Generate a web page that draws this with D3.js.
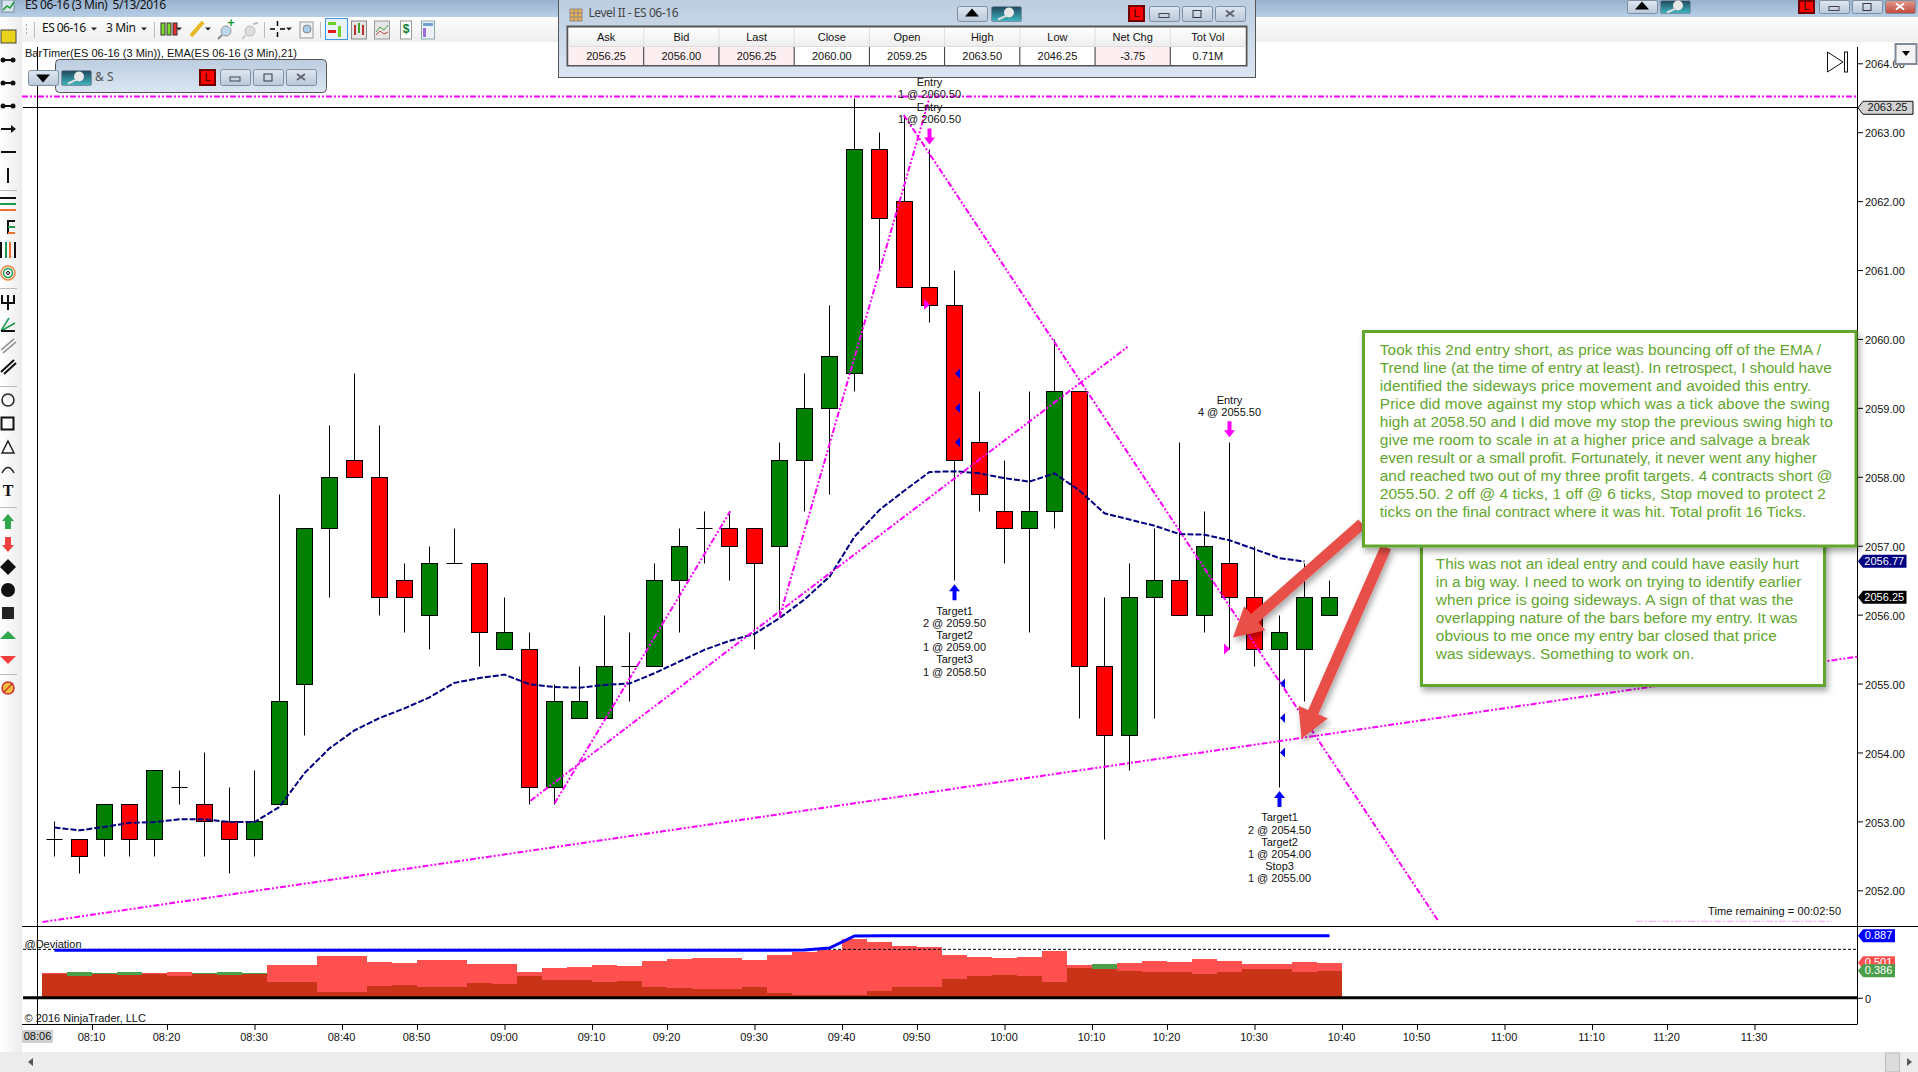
<!DOCTYPE html>
<html lang="en">
<head>
<meta charset="UTF-8">
<title>ES 06-16 (3 Min) 5/13/2016</title>
<script src="https://cdnjs.cloudflare.com/ajax/libs/d3/7.8.5/d3.min.js"></script>
<style>
    body { margin: 0; background: #fff; overflow: hidden; }
    svg { display: block; font-family: 'Liberation Sans', Arial, sans-serif; }
    text { fill: #111; font-size: 11px; dominant-baseline: middle; white-space: pre; }
    .ui { font-family: 'Noto Sans', sans-serif; }
    .axis text { font-size: 11px; fill: #111; dominant-baseline: auto; }
    .axis line { stroke: #000; }
    .axis .domain { display: none; }
    .trend { fill: none; stroke: #ff00ff; stroke-width: 2; stroke-dasharray: 6 2 2 2 2 2; }
    .note text { fill: #62a62d; font-size: 15.4px; }
</style>
</head>
<body>
<svg id="chart" width="1918" height="1072"></svg>
<script>
// candles, one per 3 minute bar
const barOpen = [2052.75,2052.75,2052.75,2053.25,2052.75,2053.5,2053.25,2053,2052.75,2053.25,2055,2057.25,2058.25,2058,2056.5,2056,2056.75,2056.75,2055.5,2055.5,2053.5,2054.5,2054.5,2055.25,2055.25,2056.5,2057.25,2057.25,2057.25,2057,2058.25,2059,2059.5,2062.75,2062,2060.75,2060.5,2058.5,2057.5,2057.25,2057.5,2059.25,2055.25,2054.25,2056.25,2056.5,2056,2056.75,2056.25,2055.5,2055.5,2056];
const barHigh = [2053,2052.75,2053.25,2053.25,2053.75,2053.75,2054,2053.5,2053.75,2057.75,2057.25,2058.75,2059.5,2058.75,2056.75,2057,2057.25,2056.75,2056.25,2055.75,2055,2055.25,2056,2055.75,2056.75,2057.25,2057.5,2057.5,2057.25,2058.5,2059.5,2060.5,2063.5,2063,2063.25,2062.75,2061,2059.25,2058.25,2059.25,2060,2059.25,2056.25,2056.75,2057.25,2058.5,2057.5,2058.5,2057,2056,2056.75,2056.5];
const barLow = [2052.5,2052.25,2052.5,2052.5,2052.5,2053.25,2052.5,2052.25,2052.5,2053.25,2054.25,2056.25,2058,2056,2055.75,2055.5,2056.75,2055.25,2055.5,2053.25,2053.25,2054.5,2054.5,2054.75,2055.25,2055.75,2056.75,2056.5,2055.5,2056,2057.5,2057.75,2059.25,2061,2060.75,2060.25,2056.5,2057.5,2056.75,2055.75,2057.25,2054.5,2052.75,2053.75,2054.5,2056,2055.75,2055.5,2055.25,2053.5,2054.75,2056];
const barClose = [2052.75,2052.5,2053.25,2052.75,2053.75,2053.5,2053,2052.75,2053,2054.75,2057.25,2058,2058,2056.25,2056.25,2056.75,2056.75,2055.75,2055.75,2053.5,2054.75,2054.75,2055.25,2055.25,2056.5,2057,2057.25,2057,2056.75,2058.25,2059,2059.75,2062.75,2061.75,2060.75,2060.5,2058.25,2057.75,2057.25,2057.5,2059.25,2055.25,2054.25,2056.25,2056.5,2056,2057,2056.25,2055.5,2055.75,2056.25,2056.25];

// EMA(21), ends one bar before the last candle
const emaValues = [2052.91,2052.87,2052.92,2052.98,2052.99,2053.03,2053.03,2052.99,2052.99,2053.21,2053.7,2054.06,2054.32,2054.5,2054.64,2054.8,2055.01,2055.08,2055.13,2054.99,2054.95,2054.94,2054.98,2055,2055.15,2055.32,2055.49,2055.62,2055.72,2055.95,2056.22,2056.55,2057.13,2057.52,2057.8,2058.07,2058.08,2058.05,2057.98,2057.93,2058.05,2057.8,2057.47,2057.38,2057.29,2057.17,2057.16,2057.08,2056.95,2056.82,2056.77];

// @Deviation panel
const devRed = [.353,.31,.344,.325,.353,.368,.344,.325,.344,.468,.468,.597,.597,.511,.497,.54,.54,.482,.482,.368,.425,.439,.468,.454,.525,.554,.568,.568,.54,.611,.654,.683,.84,.797,.74,.726,.611,.583,.568,.583,.669,.468,.411,.497,.525,.511,.554,.525,.482,.482,.511,.501];
const devGreen = [.344,.368,.353,.368,.344,.31,.353,.368,.353,.224,.224,.081,.081,.167,.181,.153,.153,.21,.196,.31,.253,.253,.224,.239,.153,.138,.124,.124,.153,.067,.038,.038,.038,.096,.153,.153,.267,.31,.325,.31,.224,.425,.482,.382,.368,.368,.339,.368,.411,.411,.368,.386];
const devLine = [.679,.679,.679,.679,.679,.679,.679,.679,.679,.679,.679,.679,.679,.679,.679,.679,.679,.679,.679,.679,.679,.679,.679,.679,.679,.679,.679,.679,.679,.679,.685,.712,.885,.887,.887,.887,.887,.887,.887,.887,.887,.887,.887,.887,.887,.887,.887,.887,.887,.887,.887,.887];
const devDashed = 0.693;

const priceTicks = [2052,2053,2054,2055,2056,2057,2058,2059,2060,2061,2062,2063,2064];
const timeLabels = ['08:10','08:20','08:30','08:40','08:50','09:00','09:10','09:20','09:30','09:40','09:50','10:00','10:10','10:20','10:30','10:40','10:50','11:00','11:10','11:20','11:30'];
const timeTickBars = [1.5,4.5,8,11.5,14.5,18,21.5,24.5,28,31.5,34.5,38,41.5,44.5,48,51.5,54.5,58,61.5,64.5,68];

// drawn lines: [bar, price, bar, price]
const trendLines = [
    [-1.3,2063.52,72.1,2063.52],
    [-0.48,2051.54,72.1,2055.39],
    [33.97,2063.25,55.36,2051.55],
    [29,2055.96,35.04,2063.55],
    [20,2053.26,27.03,2057.5],
    [19.04,2053.3,42.98,2059.9]
];
const faintLine = [63.26,2051.55,71.1,2051.55];

const entryLabels = [
    { bar: 35, lines: ['Entry','1 @ 2060.50','Entry','1 @ 2060.50'] },
    { bar: 47, lines: ['Entry','4 @ 2055.50'] }
];
const exitLabels = [
    { bar: 36, lines: ['Target1','2 @ 2059.50','Target2','1 @ 2059.00','Target3','1 @ 2058.50'] },
    { bar: 49, lines: ['Target1','2 @ 2054.50','Target2','1 @ 2054.00','Stop3','1 @ 2055.00'] }
];
const entryFills = [[35,2060.5],[47,2055.5]];
const exitFills = [[36,2059.5],[36,2059],[36,2058.5],[49,2055],[49,2054.5],[49,2054]];

// red call-out arrows: tail bar, tail price, tip bar, tip price
const calloutArrows = [
    [52.3,2057.32,47.14,2055.67],
    [53.26,2056.98,49.88,2054.2]
];

const levelHeaders = ['Ask','Bid','Last','Close','Open','High','Low','Net Chg','Tot Vol'];
const levelValues = ['2056.25','2056.00','2056.25','2060.00','2059.25','2063.50','2046.25','-3.75','0.71M'];
const levelPink = [true,true,true,false,false,false,false,true,false];

const noteOne = [
    'Took this 2nd entry short, as price was bouncing off of the EMA /',
    'Trend line (at the time of entry at least). In retrospect, I should have',
    'identified the sideways price movement and avoided this entry.',
    'Price did move against my stop which was a tick above the swing',
    'high at 2058.50 and I did move my stop the previous swing high to',
    'give me room to scale in at a higher price and salvage a break',
    'even result or a small profit. Fortunately, it never went any higher',
    'and reached two out of my three profit targets. 4 contracts short @',
    '2055.50. 2 off @ 4 ticks, 1 off @ 6 ticks, Stop moved to protect 2',
    'ticks on the final contract where it was hit. Total profit 16 Ticks.'
];
const noteTwo = [
    'This was not an ideal entry and could have easily hurt',
    'in a big way. I need to work on trying to identify earlier',
    'when price is going sideways. A sign of that was the',
    'overlapping nature of the bars before my entry. It was',
    'obvious to me once my entry bar closed that price',
    'was sideways. Something to work on.'
];

const svg = d3.select('#chart');
const defs = svg.append('defs');

function vGrad(id, a, b) {
    const g = defs.append('linearGradient').attr('id', id).attr('x1', 0).attr('y1', 0).attr('x2', 0).attr('y2', 1);
    g.append('stop').attr('offset', '0%').attr('stop-color', a);
    g.append('stop').attr('offset', '100%').attr('stop-color', b);
}
vGrad('titleGrad', '#98b2cf', '#b7cee6');
vGrad('toolGrad', '#fdfdfd', '#efefef');
vGrad('winGrad', '#bccde0', '#dbe6f2');
vGrad('btnGrad', '#dfe7f0', '#b9c8da');
vGrad('pinGrad', '#20465c', '#3fb8c0');
vGrad('closeGrad', '#e09a90', '#c0483a');
vGrad('headGrad', '#ffffff', '#eeeeee');
const sideGrad = defs.append('linearGradient').attr('id', 'sideGrad');
sideGrad.append('stop').attr('offset', '0%').attr('stop-color', '#ffffff');
sideGrad.append('stop').attr('offset', '100%').attr('stop-color', '#ececec');

const shadow = defs.append('filter').attr('id', 'shadow').attr('x', '-10%').attr('y', '-10%').attr('width', '120%').attr('height', '125%');
shadow.append('feDropShadow').attr('dx', 2).attr('dy', 4).attr('stdDeviation', 3).attr('flood-opacity', 0.35);

function rect(g, x, y, w, h, fill, stroke) {
    return g.append('rect').attr('x', x).attr('y', y).attr('width', w).attr('height', h)
        .attr('fill', fill).attr('stroke', stroke || 'none');
}
function label(g, x, y, str, anchor, size) {
    const t = g.append('text').attr('x', x).attr('y', y).attr('text-anchor', anchor || 'start').text(str);
    if (size) t.style('font-size', size + 'px');
    return t;
}
function line(g, x1, y1, x2, y2, color, w) {
    return g.append('line').attr('x1', x1).attr('y1', y1).attr('x2', x2).attr('y2', y2)
        .attr('stroke', color || '#000').attr('stroke-width', w || 1);
}

// scales
const xBar = d3.scaleLinear().domain([0, 51]).range([54.5, 1329.5]);
const yPrice = d3.scaleLinear().domain([2052, 2064]).range([890.3, 63.3]);
const yDev = d3.scaleLinear().domain([0, 0.887]).range([997.7, 935.8]);
const bars = barOpen.map((o, i) => ({ i, o, h: barHigh[i], l: barLow[i], c: barClose[i] }));
const snapX = i => Math.floor(xBar(i)) + 0.5;
const snapY = p => Math.round(yPrice(p)) + 0.5;

// window frame
rect(svg, 0, 0, 1918, 17, 'url(#titleGrad)');
rect(svg, 22, 17, 1896, 25, 'url(#toolGrad)');
rect(svg, 0, 17, 22, 1035, 'url(#sideGrad)');
rect(svg, 0, 1052, 1918, 20, '#ececec');

// ---- price panel
const chart = svg.append('g');
const candles = chart.selectAll('.candle').data(bars).enter().append('g').attr('class', 'candle');
candles.append('line')
    .attr('x1', d => snapX(d.i)).attr('x2', d => snapX(d.i))
    .attr('y1', d => snapY(d.h)).attr('y2', d => snapY(d.l))
    .attr('stroke', '#000');
// a bar with open = close is only a cross
candles.filter(d => d.o === d.c).append('line')
    .attr('x1', d => snapX(d.i) - 8).attr('x2', d => snapX(d.i) + 8)
    .attr('y1', d => snapY(d.o)).attr('y2', d => snapY(d.o))
    .attr('stroke', '#000');
candles.filter(d => d.o !== d.c).append('rect')
    .attr('x', d => snapX(d.i) - 8).attr('width', 16)
    .attr('y', d => snapY(Math.max(d.o, d.c)))
    .attr('height', d => snapY(Math.min(d.o, d.c)) - snapY(Math.max(d.o, d.c)))
    .attr('fill', d => d.c >= d.o ? '#008000' : '#ff0000')
    .attr('stroke', '#000');

const emaLine = d3.line().x((d, i) => xBar(i)).y(d => yPrice(d));
chart.append('path').attr('d', emaLine(emaValues))
    .attr('fill', 'none').attr('stroke', '#000080').attr('stroke-width', 2).attr('stroke-dasharray', '6 2');

chart.selectAll('.trend').data(trendLines).enter().append('line').attr('class', 'trend')
    .attr('x1', d => xBar(d[0])).attr('y1', d => yPrice(d[1]))
    .attr('x2', d => xBar(d[2])).attr('y2', d => yPrice(d[3]));
line(chart, xBar(faintLine[0]), yPrice(faintLine[1]), xBar(faintLine[2]), yPrice(faintLine[3]), '#ff00ff', 1)
    .attr('opacity', 0.35).attr('stroke-dasharray', '7 2 2 2');

// crosshair
line(chart, 37.5, 47, 37.5, 1024);
line(chart, 23, 107.5, 1857, 107.5);

// small fill triangles
chart.selectAll('.inFill').data(entryFills).enter().append('path')
    .attr('d', d => { const x = xBar(d[0]) - 5.5, y = yPrice(d[1]); return `M${x},${y - 5.5}L${x + 6},${y}L${x},${y + 5.5}Z`; })
    .attr('fill', '#ff00ff');
chart.selectAll('.outFill').data(exitFills).enter().append('path')
    .attr('d', d => { const x = xBar(d[0]) + 5.5, y = yPrice(d[1]); return `M${x},${y - 5}L${x - 5},${y}L${x},${y + 5}Z`; })
    .attr('fill', '#0000e0');

// entry and exit arrows with their text
entryLabels.forEach(e => {
    const x = xBar(e.bar), top = yPrice(barHigh[e.bar]);
    chart.append('path').attr('fill', '#ff00ff')
        .attr('d', `M${x - 2},${top - 21}h4v9h3.5l-5.5,7l-5.5,-7h3.5z`);
    e.lines.forEach((s, i) => label(chart, x, top - 29.5 - (e.lines.length - 1 - i) * 12.2, s, 'middle'));
});
exitLabels.forEach(e => {
    const x = xBar(e.bar), bot = yPrice(barLow[e.bar]);
    chart.append('path').attr('fill', '#0000ff')
        .attr('d', `M${x - 2},${bot + 20}h4v-9h3.5l-5.5,-7l-5.5,7h3.5z`);
    e.lines.forEach((s, i) => label(chart, x, bot + 31.6 + i * 12.2, s, 'middle'));
});

label(chart, 25, 54.5, 'BarTimer(ES 06-16 (3 Min)), EMA(ES 06-16 (3 Min),21)').attr('textLength', 272);
label(chart, 1708, 912, 'Time remaining = 00:02:50').attr('textLength', 133);

// go to last bar icon
chart.append('path').attr('d', 'M1827.5,52L1843,62L1827.5,72Z').attr('fill', 'none').attr('stroke', '#111');
rect(chart, 1844.5, 52, 3, 20, 'none', '#111');

// ---- @Deviation panel
const dev = svg.append('g');
const devBars = bars.map(d => ({ i: d.i, red: devRed[d.i], green: devGreen[d.i] }));
const devRect = (cls, value, color) => dev.selectAll('.' + cls).data(devBars).enter().append('rect')
    .attr('x', d => xBar(d.i) - 12.5).attr('width', 25)
    .attr('y', d => yDev(value(d))).attr('height', d => yDev(0) - yDev(value(d)))
    .attr('fill', color).attr('shape-rendering', 'crispEdges');
devRect('devRed', d => d.red, '#ff5050');
devRect('devGreen', d => d.green, '#4b9f4b');
devRect('devBoth', d => Math.min(d.red, d.green), '#c93317');

line(dev, 23, yDev(devDashed), 1857, yDev(devDashed)).attr('stroke-dasharray', '3 2');
line(dev, 23, yDev(0), 1857, yDev(0), '#000', 3);
const devPath = d3.line().x((d, i) => xBar(i)).y(d => yDev(d));
dev.append('path').attr('d', devPath(devLine)).attr('fill', 'none').attr('stroke', '#0000ff').attr('stroke-width', 3);

label(dev, 24.5, 945.5, '@Deviation');
label(dev, 24.5, 1019, '© 2016 NinjaTrader, LLC');

// panel rules
line(svg, 22, 926.5, 1918, 926.5);
line(svg, 22, 1024.5, 1857, 1024.5);
line(svg, 1857.5, 47, 1857.5, 1024.5);

// axes
svg.append('g').attr('class', 'axis').attr('transform', 'translate(1857,0)')
    .call(d3.axisRight(yPrice).tickValues(priceTicks).tickFormat(d3.format('.2f')).tickSize(6).tickPadding(2))
    .selectAll('text').attr('dy', '0.42em');
svg.append('g').attr('class', 'axis').attr('transform', 'translate(1857,0)')
    .call(d3.axisRight(yDev).tickValues([0]).tickFormat(d3.format('d')).tickSize(6).tickPadding(2))
    .selectAll('text').attr('dy', '0.42em');
svg.append('g').attr('class', 'axis').attr('transform', 'translate(0,1024)')
    .call(d3.axisBottom(xBar).tickValues(timeTickBars).tickFormat((d, i) => timeLabels[i]).tickSize(6).tickPadding(3))
    .selectAll('text').attr('dx', -1);
rect(svg, 22, 1030, 31, 13, '#cfcfcf');
label(svg, 37.5, 1037.5, '08:06', 'middle');

// value tags at the axis
function tag(y, h, w, fill, textColor, str, stroke) {
    const top = y - h / 2;
    svg.append('path').attr('d', `M1858,${y}L1863,${top}H${1858 + w}V${top + h}H1863Z`)
        .attr('fill', fill).attr('stroke', stroke || 'none');
    label(svg, 1864 + (w - 6) / 2 - 1, y + 0.5, str, 'middle').style('fill', textColor);
}
tag(107.8, 13, 55, '#d4d4d4', '#111', '2063.25', '#111');
tag(561.2, 13, 48.5, '#000080', '#fff', '2056.77');
tag(597.2, 13, 48.5, '#000', '#fff', '2056.25');
tag(yDev(0.887), 13, 37, '#0000ff', '#fff', '0.887');
tag(yDev(0.501), 13, 37, '#ff5050', '#fff', '0.501');
tag(yDev(0.386), 13, 37, '#4b9f4b', '#fff', '0.386');

// ---- red call-out arrows
calloutArrows.forEach(a => {
    const x0 = xBar(a[0]), y0 = yPrice(a[1]), x1 = xBar(a[2]), y1 = yPrice(a[3]);
    const len = Math.hypot(x1 - x0, y1 - y0), ux = (x1 - x0) / len, uy = (y1 - y0) / len;
    const nx = -uy, ny = ux, bx = x1 - ux * 29, by = y1 - uy * 29;
    const pts = [
        [x0 + nx * 5.5, y0 + ny * 5.5], [bx + nx * 5.5, by + ny * 5.5], [bx + nx * 16, by + ny * 16],
        [x1, y1],
        [bx - nx * 16, by - ny * 16], [bx - nx * 5.5, by - ny * 5.5], [x0 - nx * 5.5, y0 - ny * 5.5]
    ];
    svg.append('polygon').attr('points', pts.join(' ')).attr('fill', '#e8504a').attr('filter', 'url(#shadow)');
});

// ---- green notes, line widths follow the screenshot's hinted text
const noteB = svg.append('g').attr('class', 'note');
rect(noteB, 1421.5, 530, 403, 155.5, '#fff', '#62a62d').attr('stroke-width', 3).attr('filter', 'url(#shadow)');
const noteTwoWidths = [363, 365.6, 357.5, 361.6, 341, 258.4];
noteTwo.forEach((s, i) => label(noteB, 1435.8, 564.5 + i * 18, s).attr('textLength', noteTwoWidths[i]));
const noteA = svg.append('g').attr('class', 'note');
rect(noteA, 1363.5, 331.5, 492.5, 214.5, '#fff', '#62a62d').attr('stroke-width', 3).attr('filter', 'url(#shadow)');
const noteOneWidths = [441.2, 451.9, 431.6, 450, 452.9, 430.2, 437.2, 452.6, 446, 426.5];
noteOne.forEach((s, i) => label(noteA, 1379.8, 351.1 + i * 18, s).attr('textLength', noteOneWidths[i]));

// ---- toolbar
const bar = svg.append('g');
function smallArrow(g, x, y) { g.append('path').attr('d', `M${x - 3},${y - 1.5}h6l-3,3z`).attr('fill', '#222'); }
function btn(g, x, y, w, h, kind) {
    rect(g, x + 0.5, y + 0.5, w, h, kind === 'close' ? 'url(#closeGrad)' : 'url(#btnGrad)', '#7f8fa3').attr('rx', 2);
    const cx = x + w / 2, cy = y + h / 2;
    if (kind === 'min') rect(g, cx - 5, cy, 10, 4, 'none', '#445');
    if (kind === 'max') rect(g, cx - 4, cy - 3, 8, 7, 'none', '#334');
    if (kind === 'close' || kind === 'x') {
        g.append('path').attr('d', `M${cx - 4},${cy - 3}L${cx + 4},${cy + 3}M${cx + 4},${cy - 3}L${cx - 4},${cy + 3}`)
            .attr('stroke', kind === 'close' ? '#fff' : '#667').attr('stroke-width', 2);
    }
    if (kind === 'up') g.append('path').attr('d', `M${cx - 7},${cy + 3}h14l-7,-8z`).attr('fill', '#000');
    if (kind === 'down') g.append('path').attr('d', `M${cx - 7},${cy - 3}h14l-7,8z`).attr('fill', '#000');
    if (kind === 'pin') {
        rect(g, x + 0.5, y + 0.5, w, h, 'url(#pinGrad)', '#7f8fa3').attr('rx', 2);
        g.append('circle').attr('cx', cx + 3).attr('cy', cy - 1).attr('r', 5).attr('fill', '#e8e8e8');
        line(g, cx + 1, cy + 2, cx - 8, cy + 6, '#ddd', 2);
    }
}
function lBox(g, x, y, w, h) {
    rect(g, x + 1, y + 1, w - 2, h - 2, '#ff0000', '#700000').attr('stroke-width', 2);
    label(g, x + w / 2, y + h / 2 + 0.5, 'L', 'middle', 11);
}

label(bar, 25, 6, 'ES 06-16 (3 Min)  5/13/2016', 'start', 12).attr('class', 'ui').attr('textLength', 141);
rect(bar, 2, 0, 12, 12, '#d8e4ef', '#7f8fa3');
bar.append('path').attr('d', 'M3,10L7,6L10,8L14,2').attr('fill', 'none').attr('stroke', '#1a9a30').attr('stroke-width', 1.5);
btn(bar, 1627, 0, 30, 13, 'up');
btn(bar, 1660, 0, 30, 13, 'pin');
lBox(bar, 1798, 0, 17, 14);
btn(bar, 1819, 0, 30, 13, 'min');
btn(bar, 1852, 0, 30, 13, 'max');
btn(bar, 1885, 0, 30, 13, 'close');

line(bar, 26.5, 24, 26.5, 36, '#aaa').attr('stroke-dasharray', '2 2');
line(bar, 34.5, 22, 34.5, 38, '#bbb');
label(bar, 42, 29, 'ES 06-16', 'start', 12).attr('class', 'ui').attr('textLength', 44);
smallArrow(bar, 94, 29);
label(bar, 106, 29, '3 Min', 'start', 12).attr('class', 'ui').attr('textLength', 30);
smallArrow(bar, 144, 29);
line(bar, 154.5, 22, 154.5, 38, '#bbb');
rect(bar, 161, 23, 4, 12, '#7fdc2a', '#333');
rect(bar, 167, 23, 4, 12, '#7fdc2a', '#333');
rect(bar, 173, 23, 4, 12, '#e03030', '#333');
smallArrow(bar, 179, 29);
line(bar, 191, 36, 203, 22, '#e8b820', 4);
smallArrow(bar, 208, 29);
bar.append('circle').attr('cx', 226).attr('cy', 31).attr('r', 5).attr('fill', '#bcd6ee').attr('stroke', '#999');
line(bar, 222, 35, 218, 39, '#888', 2);
label(bar, 231, 24, '+', 'middle', 13).style('fill', '#10a030').style('font-weight', 'bold');
bar.append('circle').attr('cx', 250).attr('cy', 31).attr('r', 5).attr('fill', '#ddd').attr('stroke', '#bbb');
line(bar, 246, 35, 242, 39, '#ccc', 2);
line(bar, 253, 24, 258, 23, '#bbb', 2);
line(bar, 264.5, 22, 264.5, 38, '#bbb');
bar.append('path').attr('d', 'M270,29h5M280,29h5M277.5,21v5M277.5,32v5').attr('stroke', '#000').attr('stroke-width', 1.5);
smallArrow(bar, 289, 29);
rect(bar, 300, 22, 13, 16, '#f4f4f4', '#999');
bar.append('circle').attr('cx', 307).attr('cy', 29).attr('r', 4).attr('fill', '#a8cdea').attr('stroke', '#888');
line(bar, 320.5, 22, 320.5, 38, '#bbb');
rect(bar, 325.5, 18.5, 22, 21, '#e8f2fb', '#3f97e6');
rect(bar, 328, 22, 8, 3, '#6fd02a');
rect(bar, 328, 30, 8, 3, '#e02020');
rect(bar, 338, 26, 3, 11, '#6fd02a');
rect(bar, 351.5, 21, 15, 18, '#e6e6e6', '#888');
rect(bar, 354, 25, 2, 10, '#c03030');
rect(bar, 358, 23, 2, 10, '#40a030');
rect(bar, 362, 25, 2, 10, '#c03030');
rect(bar, 374.5, 21, 15, 18, '#e6e6e6', '#999');
bar.append('path').attr('d', 'M376,32L380,27L384,30L388,25').attr('fill', 'none').attr('stroke', '#3fa040');
bar.append('path').attr('d', 'M376,35L380,31L384,34L388,32').attr('fill', 'none').attr('stroke', '#d04040');
rect(bar, 400.5, 21, 11, 18, '#fff', '#999');
label(bar, 406, 30, '$', 'middle', 12).style('fill', '#108030').style('font-weight', 'bold');
rect(bar, 421.5, 21, 13, 18, '#eef2f6', '#8aa');
rect(bar, 423, 23, 10, 3, '#70a0d0');
rect(bar, 423, 28, 3, 9, '#9a70e0');

// ---- drawing tools on the left
const tools = svg.append('g');
rect(tools, 1, 30, 15, 13, '#e8d21a', '#444');
[60, 83, 106].forEach(y => {
    line(tools, 1, y, 15, y, '#111', 2);
    tools.append('circle').attr('cx', 3).attr('cy', y).attr('r', 2.5).attr('fill', '#111');
    tools.append('circle').attr('cx', 13).attr('cy', y).attr('r', 2.5).attr('fill', '#111');
});
line(tools, 1, 129, 14, 129, '#111', 2);
tools.append('path').attr('d', 'M11,125l5,4l-5,4z').attr('fill', '#111');
line(tools, 1, 152, 16, 152, '#111', 2);
line(tools, 8, 168, 8, 183, '#111', 2);
line(tools, 0, 190.5, 17, 190.5, '#bbb');
line(tools, 0, 198, 16, 198, '#111', 2);
line(tools, 0, 204, 16, 204, '#1a9a50', 2);
line(tools, 0, 210, 16, 210, '#f07030', 2);
line(tools, 8, 220, 8, 234, '#111', 2);
line(tools, 8, 221, 15, 221, '#111', 2);
line(tools, 8, 227, 15, 227, '#1a9a50', 2);
line(tools, 8, 233, 15, 233, '#f07030', 2);
line(tools, 1, 242, 1, 258, '#111', 2);
line(tools, 6, 242, 6, 258, '#1a9a50', 2);
line(tools, 10, 242, 10, 258, '#f07030', 2);
line(tools, 15, 242, 15, 258, '#111', 2);
tools.append('circle').attr('cx', 8).attr('cy', 273).attr('r', 7).attr('fill', 'none').attr('stroke', '#f08040').attr('stroke-width', 1.5);
tools.append('circle').attr('cx', 8).attr('cy', 273).attr('r', 4.5).attr('fill', 'none').attr('stroke', '#1a9a50').attr('stroke-width', 1.5);
tools.append('circle').attr('cx', 8).attr('cy', 273).attr('r', 1.5).attr('fill', 'none').attr('stroke', '#111');
line(tools, 0, 288.5, 17, 288.5, '#bbb');
tools.append('path').attr('d', 'M2,295v8h12v-8M8,295v15').attr('fill', 'none').attr('stroke', '#111').attr('stroke-width', 2);
tools.append('path').attr('d', 'M1,331L9,318M1,331L15,323').attr('stroke', '#1a9a50').attr('stroke-width', 1.5);
line(tools, 1, 331, 15, 331, '#111', 2);
tools.append('path').attr('d', 'M1,350L14,339M3,353L16,342').attr('stroke', '#888').attr('stroke-width', 1.5);
tools.append('path').attr('d', 'M1,372L14,360M4,374L16,363').attr('stroke', '#111').attr('stroke-width', 2);
line(tools, 0, 386.5, 17, 386.5, '#bbb');
tools.append('circle').attr('cx', 8).attr('cy', 400).attr('r', 6).attr('fill', 'none').attr('stroke', '#222').attr('stroke-width', 1.5);
rect(tools, 1.5, 417.5, 12, 12, 'none', '#111').attr('stroke-width', 2);
tools.append('path').attr('d', 'M8,441L14,453H2Z').attr('fill', 'none').attr('stroke', '#222').attr('stroke-width', 1.5);
tools.append('path').attr('d', 'M2,473Q8,462 14,473').attr('fill', 'none').attr('stroke', '#222').attr('stroke-width', 1.5);
label(tools, 8, 492, 'T', 'middle', 16).style('font-family', 'Liberation Serif').style('font-weight', 'bold');
line(tools, 0, 507.5, 17, 507.5, '#bbb');
tools.append('path').attr('d', 'M8,514l6,7h-3v8h-6v-8h-3z').attr('fill', '#2ea84a');
tools.append('path').attr('d', 'M8,552l6,-7h-3v-8h-6v8h-3z').attr('fill', '#f04040');
tools.append('path').attr('d', 'M8,559l8,8l-8,8l-8,-8z').attr('fill', '#111');
tools.append('circle').attr('cx', 8).attr('cy', 590).attr('r', 7).attr('fill', '#111');
rect(tools, 2, 607, 12, 12, '#222');
tools.append('path').attr('d', 'M8,631l8,8H0z').attr('fill', '#2ea84a');
tools.append('path').attr('d', 'M8,664l8,-8H0z').attr('fill', '#f04040');
line(tools, 0, 674.5, 17, 674.5, '#bbb');
tools.append('circle').attr('cx', 8).attr('cy', 688).attr('r', 6).attr('fill', '#f5c040').attr('stroke', '#d03030').attr('stroke-width', 1.5);
line(tools, 3, 693, 13, 683, '#d03030', 1.5);

// ---- floating "& S" window
const tns = svg.append('g');
rect(tns, 55.5, 59.5, 271, 33, 'url(#winGrad)', '#555').attr('rx', 4);
btn(tns, 28, 70, 30, 15, 'down');
btn(tns, 61, 70, 30, 15, 'pin');
label(tns, 95, 78, '& S', 'start', 12).attr('class', 'ui').style('fill', '#555');
lBox(tns, 199, 69, 17, 17);
btn(tns, 220, 69, 30, 16, 'min');
btn(tns, 253, 69, 30, 16, 'max');
btn(tns, 286, 69, 30, 16, 'x');

// ---- Level II window
const lvl = svg.append('g');
rect(lvl, 558.5, -2, 697, 79.5, 'url(#winGrad)', '#555');
rect(lvl, 570, 9, 12, 12, '#f0b050', '#888');
line(lvl, 574, 9, 574, 21, '#888');
line(lvl, 578, 9, 578, 21, '#888');
line(lvl, 570, 13, 582, 13, '#888');
line(lvl, 570, 17, 582, 17, '#888');
label(lvl, 588.5, 14, 'Level II - ES 06-16', 'start', 12).attr('class', 'ui').attr('textLength', 90).style('fill', '#444');
btn(lvl, 957, 6, 30, 15, 'up');
btn(lvl, 991, 6, 30, 15, 'pin');
lBox(lvl, 1128, 5, 17, 17);
btn(lvl, 1149, 6, 30, 15, 'min');
btn(lvl, 1182, 6, 30, 15, 'max');
btn(lvl, 1215, 6, 30, 15, 'x');
rect(lvl, 567.5, 26.5, 679, 39, '#fff', '#555').attr('stroke-width', 2);
const colX = d3.scaleBand().domain(d3.range(levelHeaders.length)).range([568.5, 1245.5]);
levelHeaders.forEach((h, i) => {
    rect(lvl, colX(i), 28, colX.bandwidth(), 18, 'url(#headGrad)');
    rect(lvl, colX(i), 47, colX.bandwidth(), 18, levelPink[i] ? '#fdeef2' : '#fff');
    if (i > 0) {
        line(lvl, colX(i), 28, colX(i), 46, '#ddd');
        line(lvl, colX(i), 47, colX(i), 65, '#333');
    }
    label(lvl, colX(i) + colX.bandwidth() / 2, 38.5, h, 'middle');
    label(lvl, colX(i) + colX.bandwidth() / 2, 57.5, levelValues[i], 'middle');
});
line(lvl, 568, 46.5, 1246, 46.5, '#ddd');

// ---- price menu box and scroll bar
const misc = svg.append('g');
rect(misc, 1895.5, 44, 21, 20, '#f4f4f4', '#7f8a96').attr('stroke-width', 2);
misc.append('path').attr('d', 'M1902,51h8l-4,5z').attr('fill', '#000');
misc.append('path').attr('d', 'M33,1058v8l-5,-4z').attr('fill', '#555');
rect(misc, 1885.5, 1053, 14, 19, '#dcdcdc', '#bbb');
misc.append('path').attr('d', 'M1907,1058v8l5,-4z').attr('fill', '#555');
</script>
</body>
</html>
